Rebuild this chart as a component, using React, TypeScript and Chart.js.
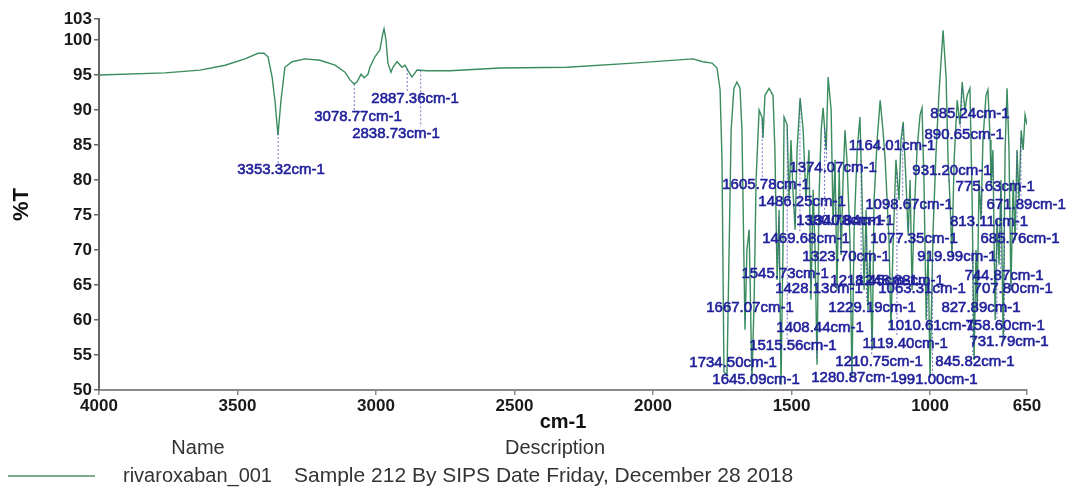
import React, { useEffect, useRef } from "react";
import { Chart, registerables } from "chart.js";

Chart.register(...registerables);

// Axis ticks
const xTicks = [4000, 3500, 3000, 2500, 2000, 1500, 1000, 650];
const yTicks = [50, 55, 60, 65, 70, 75, 80, 85, 90, 95, 100, 103];

// Functional-group region (cm-1, %T)
const groupWn = [4000, 3762, 3635, 3545, 3473, 3426, 3404, 3390, 3375, 3365, 3354, 3343, 3329, 3303, 3256, 3202, 3148, 3112, 3094, 3079, 3069, 3054, 3043, 3029, 3022, 3004, 2986, 2975, 2971, 2964, 2957, 2946, 2939, 2924, 2906, 2895, 2884, 2870, 2852, 2816, 2733, 2552, 2310, 2072];
const groupT = [95.0, 95.3, 95.7, 96.4, 97.3, 98.1, 98.1, 97.6, 94.7, 91.4, 86.4, 91.4, 96.1, 96.9, 97.3, 97.1, 96.4, 95.4, 94.3, 93.7, 94.0, 95.1, 94.6, 95.1, 96.1, 97.6, 98.6, 101.0, 101.6, 100.0, 96.7, 95.4, 96.1, 96.9, 96.1, 96.4, 95.6, 94.7, 95.7, 95.6, 95.6, 96.0, 96.1, 96.7];

// Fingerprint region (cm-1, %T)
const fingerWn = [1856, 1820, 1787, 1769, 1758, 1751, 1744, 1733, 1726, 1718, 1708, 1697, 1686, 1679, 1668, 1661, 1653, 1643, 1635, 1628, 1617, 1606, 1603, 1596, 1581, 1567, 1560, 1552, 1545, 1538, 1531, 1527, 1516, 1509, 1502, 1495, 1487, 1480, 1469, 1458, 1448, 1437, 1430, 1422, 1415, 1408, 1401, 1393, 1386, 1375, 1368, 1357, 1350, 1343, 1336, 1328, 1321, 1314, 1307, 1300, 1289, 1282, 1274, 1263, 1253, 1245, 1238, 1231, 1224, 1217, 1209, 1202, 1191, 1180, 1170, 1162, 1155, 1148, 1141, 1134, 1123, 1112, 1105, 1097, 1087, 1079, 1072, 1065, 1058, 1047, 1036, 1029, 1022, 1014, 1007, 1000, 989, 978, 967, 960, 953, 946, 942, 935, 928, 921, 913, 902, 892, 884, 874, 866, 856, 848, 841, 834, 830, 823, 816, 809, 798, 791, 783, 780, 773, 765, 758, 751, 744, 736, 729, 722, 715, 708, 700, 693, 686, 679, 671, 664, 657, 650];
const fingerT = [97.3, 96.9, 96.7, 96.0, 92.9, 82.9, 52.6, 52.1, 68.6, 87.1, 93.1, 94.0, 93.1, 87.1, 58.6, 70.0, 72.9, 51.4, 62.9, 80.0, 90.0, 88.9, 86.0, 92.1, 93.1, 92.1, 84.3, 65.7, 75.7, 50.7, 70.0, 89.0, 87.9, 77.1, 85.7, 78.6, 72.9, 84.3, 91.7, 87.1, 77.1, 84.3, 62.9, 78.6, 70.0, 53.6, 77.1, 87.1, 90.3, 84.3, 94.7, 90.0, 73.6, 82.9, 64.3, 81.4, 69.3, 80.0, 87.1, 82.9, 71.4, 51.7, 72.9, 84.3, 89.0, 77.1, 64.3, 75.7, 61.4, 70.0, 55.7, 77.1, 85.7, 91.4, 87.1, 82.9, 77.1, 71.4, 58.6, 70.0, 82.9, 77.1, 85.7, 88.3, 80.0, 72.1, 80.0, 64.3, 74.3, 84.3, 89.3, 90.3, 80.0, 60.0, 70.0, 51.7, 72.9, 84.3, 92.9, 97.1, 101.4, 97.1, 94.6, 82.9, 77.1, 69.3, 82.9, 91.4, 87.9, 94.0, 90.0, 92.1, 93.1, 77.1, 54.3, 70.0, 61.4, 80.0, 74.3, 85.7, 92.1, 92.9, 85.7, 79.3, 84.3, 60.0, 74.3, 67.9, 80.0, 57.1, 84.3, 93.1, 84.3, 64.3, 80.0, 71.4, 84.3, 77.1, 87.1, 84.3, 89.3, 87.9];

// Peak annotations: text and where the text sits (cm-1, %T)
const peakLabels = ["3353.32cm-1", "3078.77cm-1", "2887.36cm-1", "2838.73cm-1", "885.24cm-1", "890.65cm-1", "1164.01cm-1", "1374.07cm-1", "931.20cm-1", "1605.78cm-1", "775.63cm-1", "1486.25cm-1", "1098.67cm-1", "671.89cm-1", "1380.78cm-1", "1340.84cm-1", "813.11cm-1", "1469.68cm-1", "1077.35cm-1", "685.76cm-1", "1323.70cm-1", "919.99cm-1", "1545.73cm-1", "744.87cm-1", "1218.45cm-1", "1248.88cm-1", "1428.13cm-1", "1063.31cm-1", "707.80cm-1", "1667.07cm-1", "1229.19cm-1", "827.89cm-1", "1408.44cm-1", "1010.61cm-1", "758.60cm-1", "1515.56cm-1", "1119.40cm-1", "731.79cm-1", "1734.50cm-1", "1210.75cm-1", "845.82cm-1", "1645.09cm-1", "1280.87cm-1", "991.00cm-1"];
const peakLabelWn = [3343, 3065, 2859, 2928, 856, 877, 1137, 1350, 921, 1592, 765, 1462, 1076, 653, 1325, 1289, 787, 1448, 1058, 675, 1303, 903, 1523, 733, 1202, 1108, 1401, 1029, 700, 1650, 1209, 816, 1397, 996, 729, 1495, 1090, 715, 1711, 1184, 838, 1628, 1271, 971];
const peakLabelT = [81.4, 89.0, 91.6, 86.6, 89.4, 86.4, 84.9, 81.7, 81.3, 79.3, 79.0, 76.9, 76.4, 76.4, 74.1, 74.1, 74.0, 71.6, 71.6, 71.6, 69.0, 69.0, 66.6, 66.3, 65.6, 65.6, 64.4, 64.4, 64.4, 61.7, 61.7, 61.7, 58.9, 59.1, 59.1, 56.3, 56.6, 56.9, 53.9, 54.0, 54.0, 51.4, 51.7, 51.4];

const seriesName = "rivaroxaban_001";
const seriesDescription = "Sample 212 By SIPS Date Friday, December 28 2018";

const allWn = [...groupWn, ...fingerWn];
const allT = [...groupT, ...fingerT];

function interpT(w: number): number {
  for (let i = 0; i < allWn.length - 1; i++) {
    const a = allWn[i];
    const b = allWn[i + 1];
    if (a >= w && b <= w) {
      const f = a === b ? 0 : (a - w) / (a - b);
      return allT[i] + f * (allT[i + 1] - allT[i]);
    }
  }
  return allT[allT.length - 1];
}

const LABEL_FONT = '15px "Liberation Sans", Arial, sans-serif';
const LABEL_COLOR = "#1f1f9a";

const peakLabelPlugin = {
  id: "peakLabelPlugin",
  afterDatasetsDraw(chart: any) {
    const { ctx, scales } = chart;
    const x = scales.x;
    const y = scales.y;
    ctx.save();
    ctx.font = LABEL_FONT;
    // leader lines
    ctx.setLineDash([2, 2]);
    ctx.strokeStyle = "rgba(70,70,190,0.75)";
    ctx.lineWidth = 1;
    peakLabels.forEach((txt, i) => {
      const cx = x.getPixelForValue(peakLabelWn[i]);
      const cy = y.getPixelForValue(peakLabelT[i]);
      const w = ctx.measureText(txt).width;
      const pw = parseFloat(txt);
      const px = x.getPixelForValue(pw);
      const py = y.getPixelForValue(interpT(pw));
      const lx = Math.min(Math.max(px, cx - w / 2 + 3), cx + w / 2 - 3);
      const ly = py < cy ? cy - 7 : cy + 7;
      ctx.beginPath();
      ctx.moveTo(px, py);
      ctx.lineTo(lx, ly);
      ctx.stroke();
    });
    ctx.setLineDash([]);
    ctx.fillStyle = LABEL_COLOR;
    ctx.strokeStyle = LABEL_COLOR;
    ctx.lineWidth = 0.6;
    ctx.textAlign = "center";
    ctx.textBaseline = "middle";
    peakLabels.forEach((txt, i) => {
      const cx = x.getPixelForValue(peakLabelWn[i]);
      const cy = y.getPixelForValue(peakLabelT[i]);
      ctx.fillText(txt, cx, cy);
      ctx.strokeText(txt, cx, cy);
    });
    ctx.restore();
  },
};

const legendPlugin = {
  id: "legendPlugin",
  afterDraw(chart: any) {
    const { ctx, chartArea } = chart;
    const left = chartArea.left;
    const base = chartArea.bottom;
    ctx.save();
    ctx.fillStyle = "#333";
    ctx.textBaseline = "middle";
    ctx.font = '20px "Liberation Sans", Arial, sans-serif';
    ctx.textAlign = "center";
    ctx.fillText("Name", left + 99, base + 58);
    ctx.fillText("Description", left + 456, base + 58);
    // legend row
    ctx.strokeStyle = "rgb(125,172,145)";
    ctx.lineWidth = 2;
    ctx.beginPath();
    ctx.moveTo(left - 91, base + 86);
    ctx.lineTo(left - 4, base + 86);
    ctx.stroke();
    ctx.textAlign = "left";
    ctx.fillText(seriesName, left + 24, base + 86);
    ctx.font = '21px "Liberation Sans", Arial, sans-serif';
    ctx.fillText(seriesDescription, left + 195, base + 86);
    ctx.restore();
  },
};

export default function App() {
  const canvasRef = useRef<HTMLCanvasElement | null>(null);

  useEffect(() => {
    const canvas = canvasRef.current;
    if (!canvas) return;
    const points = allWn.map((w, i) => ({ x: w, y: allT[i] }));
    const chart = new Chart(canvas, {
      type: "line",
      data: {
        datasets: [
          {
            label: seriesName,
            data: points,
            borderColor: "rgb(58,140,94)",
            borderWidth: 1.4,
            pointRadius: 0,
            tension: 0,
            fill: false,
          },
        ],
      },
      options: {
        animation: false,
        responsive: false,
        devicePixelRatio: 1,
        parsing: false as any,
        layout: { padding: { left: 0, top: 19, right: 46, bottom: 45 } },
        plugins: {
          legend: { display: false },
          tooltip: { enabled: false },
        },
        scales: {
          x: {
            type: "linear",
            reverse: true,
            min: 650,
            max: 4000,
            afterBuildTicks: (scale: any) => {
              scale.ticks = xTicks.map((v) => ({ value: v }));
            },
            afterFit: (scale: any) => {
              scale.height = 54;
            },
            ticks: {
              autoSkip: false,
              maxRotation: 0,
              padding: 1,
              color: "#1a1a1a",
              font: { family: '"Liberation Sans", Arial, sans-serif', size: 17, weight: "bold" },
              callback: (v: any) => String(v),
            },
            grid: {
              display: true,
              drawOnChartArea: false,
              drawTicks: true,
              tickLength: 5,
              color: "#8a8a8a",
              lineWidth: 1.5,
            },
            border: { display: true, color: "#8a8a8a", width: 2 },
            title: {
              display: true,
              text: "cm-1",
              color: "#111",
              font: { family: '"Liberation Sans", Arial, sans-serif', size: 20, weight: "bold" },
              padding: { top: 0, bottom: 10 },
            },
          },
          y: {
            type: "linear",
            min: 50,
            max: 103,
            afterBuildTicks: (scale: any) => {
              scale.ticks = yTicks.map((v) => ({ value: v }));
            },
            afterFit: (scale: any) => {
              scale.width = 99;
            },
            ticks: {
              autoSkip: false,
              padding: 2,
              color: "#1a1a1a",
              font: { family: '"Liberation Sans", Arial, sans-serif', size: 17, weight: "bold" },
              callback: (v: any) => String(v),
            },
            grid: {
              display: true,
              drawOnChartArea: false,
              drawTicks: true,
              tickLength: 5,
              color: "#666",
              lineWidth: 1.5,
            },
            border: { display: true, color: "#666", width: 2 },
            title: {
              display: true,
              text: "%T",
              color: "#111",
              font: { family: '"Liberation Sans", Arial, sans-serif', size: 22, weight: "bold" },
              padding: { top: 9, bottom: 0 },
            },
          },
        },
      },
      plugins: [peakLabelPlugin, legendPlugin],
    } as any);
    return () => chart.destroy();
  }, []);

  return (
    <div style={{ position: "fixed", left: 0, top: 0, width: 1073, height: 489, background: "#fff" }}>
      <canvas ref={canvasRef} width={1073} height={489} style={{ display: "block" }} />
    </div>
  );
}
